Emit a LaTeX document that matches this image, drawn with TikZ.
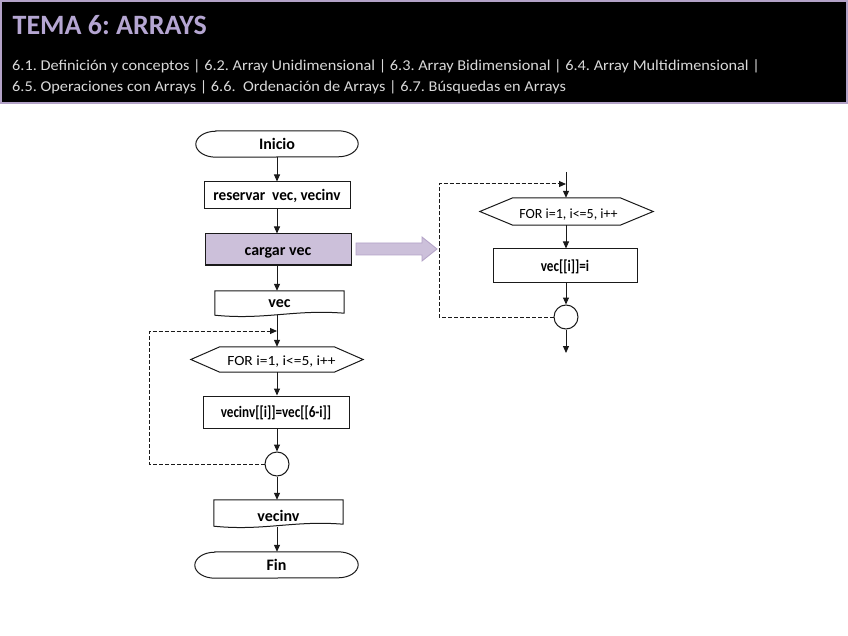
\documentclass[tikz,border=0pt]{standalone}
\usepackage{fontspec}
\setmainfont{Carlito}
\newfontfamily\widefont[FakeStretch=1.085]{Carlito}
\newfontfamily\forwide[FakeStretch=1.1]{Carlito}
\usetikzlibrary{arrows.meta,calc}
\definecolor{lav}{HTML}{B5A6D2}
\definecolor{lavfill}{HTML}{CCC0DA}
\definecolor{lavline}{HTML}{B3A2C7}
\definecolor{subgray}{HTML}{D9D9D9}
\definecolor{ln}{HTML}{1A1A1A}
\tikzset{
  txt/.style={font=\bfseries\fontsize{16}{18}\selectfont, inner sep=0pt, text=black, text height=13pt, text depth=2pt},
  procbox/.style={txt, draw=ln, line width=1pt},
  ghost/.style={txt, draw=none},
  shapeline/.style={draw=ln, line width=1pt},
  forlabel/.style={font=\fontsize{14}{16}\selectfont, inner sep=0pt, anchor=base},
  arr/.style={draw=ln, line width=1pt, -{Triangle[length=7pt,width=6pt]}},
  dashline/.style={draw=ln, line width=1pt, dash pattern=on 4pt off 2pt},
  joint/.style={circle, draw=ln, line width=1pt, minimum size=24pt, inner sep=0pt},
  headtext/.style={anchor=base west, inner sep=0pt, text=subgray, font=\widefont\fontsize{15}{18}\selectfont},
}
\begin{document}
\frenchspacing
\begin{tikzpicture}[x=1pt,y=-1pt]
\useasboundingbox (0,0) rectangle (848,636);
\fill[white] (0,0) rectangle (848,636);
% header
\draw[fill=black, draw=lavline, line width=2pt] (1,1) rectangle (847,103);
\node[anchor=base west, inner sep=0pt, text=lav, font=\bfseries\fontsize{28}{32}\selectfont] (title) at (12.5,35) {TEMA 6: ARRAYS};
\node[headtext] (l1) at (12,71) {6.1. Definición y conceptos | 6.2. Array Unidimensional | 6.3. Array Bidimensional | 6.4. Array Multidimensional |};
\node[headtext] (l2) at (12,92) {6.5. Operaciones con Arrays | 6.6.\ \ Ordenación de Arrays | 6.7. Búsquedas en Arrays};

% left flowchart
\node[ghost, minimum width=162pt, minimum height=26pt] (ini) at (277,144) {Inicio};
\draw[shapeline] ([xshift=20pt]ini.north west) -- ([xshift=-20pt]ini.north east)
  arc[start angle=90, end angle=-90, x radius=20pt, y radius=13pt]
  -- ([xshift=20pt]ini.south west)
  arc[start angle=270, end angle=90, x radius=20pt, y radius=13pt] -- cycle;

\node[procbox, minimum width=146pt, minimum height=27pt] (res) at (277,195.5) {\scalebox{0.95}[1]{reservar\ \ vec, vecinv}};
\node[procbox, fill=lavfill, minimum width=146pt, minimum height=31pt] (car) at (278,249.5) {cargar vec};

\node[ghost, minimum width=129pt, minimum height=24pt] (vec) at (279.5,303) {\raisebox{1pt}{vec}};
\draw[shapeline] (vec.south west) -- (vec.north west) -- (vec.north east) -- ([yshift=2pt]vec.south east)
  .. controls ([xshift=-50pt,yshift=6pt]vec.south east) and ([xshift=50pt,yshift=-5pt]vec.south west) .. (vec.south west) -- cycle;

\coordinate (j1) at (277,331);
\node[ghost, minimum width=172pt, minimum height=25pt] (f1) at (277,359.5) {};
\draw[shapeline] (f1.west) -- ([xshift=29pt]f1.north west) -- ([xshift=-29pt]f1.north east) -- (f1.east)
  -- ([xshift=-29pt]f1.south east) -- ([xshift=29pt]f1.south west) -- cycle;
\node[forlabel, font=\forwide\fontsize{14}{16}\selectfont] (f1t) at (281.5,365) {FOR i=1, i<=5, i++};

\node[procbox, minimum width=146pt, minimum height=32pt] (vi) at (276,412) {\scalebox{0.82}[1]{vecinv[[i]]=vec[[6-i]]}};
\node[joint] (c1) at (277,464) {};

\node[ghost, minimum width=129pt, minimum height=26pt] (vd) at (278.5,513) {\raisebox{-2.5pt}{vecinv}};
\draw[shapeline] (vd.south west) -- (vd.north west) -- (vd.north east) -- ([yshift=2pt]vd.south east)
  .. controls ([xshift=-50pt,yshift=6pt]vd.south east) and ([xshift=50pt,yshift=-5pt]vd.south west) .. (vd.south west) -- cycle;

\node[ghost, minimum width=163pt, minimum height=26pt] (fin) at (276.5,565) {Fin};
\draw[shapeline] ([xshift=20pt]fin.north west) -- ([xshift=-20pt]fin.north east)
  arc[start angle=90, end angle=-90, x radius=20pt, y radius=13pt]
  -- ([xshift=20pt]fin.south west)
  arc[start angle=270, end angle=90, x radius=20pt, y radius=13pt] -- cycle;

\draw[arr] (ini.south -| res.north) -- (res.north);
\draw[arr] (res.south) -- (res.south |- car.north);
\draw[arr] (car.south -| res.south) -- (res.south |- vec.north);
\draw[arr] (vec.south -| j1) -- (j1 |- f1.north);
\draw[arr] (f1.south -| j1) -- (j1 |- vi.north);
\draw[arr] (vi.south -| c1) -- (c1.north);
\draw[arr] (c1.south) -- (c1 |- vd.north);
\draw[arr] ([yshift=-1pt]vd.south -| c1) -- (c1 |- fin.north);
\draw[dashline, -{Triangle[length=7pt,width=6pt]}] (c1.west) -- (149,464) -- (149,331) -- (j1);

% block arrow
\draw[fill=lavfill, draw=lavline, line width=0.8pt] (356,243) -- (422,243) -- (422,237) -- (437,249) -- (422,261) -- (422,255) -- (356,255) -- cycle;

% right flowchart
\coordinate (top2) at (566,172);
\coordinate (j2) at (566,184);
\node[ghost, minimum width=173pt, minimum height=27pt] (f2) at (566.5,211.5) {};
\draw[shapeline] (f2.west) -- ([xshift=33pt]f2.north west) -- ([xshift=-33pt]f2.north east) -- (f2.east)
  -- ([xshift=-33pt]f2.south east) -- ([xshift=33pt]f2.south west) -- cycle;
\node[forlabel] (f2t) at (568.5,219) {FOR i=1, i<=5, i++};
\node[procbox, minimum width=144pt, minimum height=33pt] (vb) at (565,265.5) {\scalebox{0.82}[1]{vec[[i]]=i}};
\node[joint] (c2) at (566,317) {};
\coordinate (end2) at (566,353);

\draw[arr] (top2) -- (top2 |- f2.north);
\draw[arr] (f2.south -| top2) -- (top2 |- vb.north);
\draw[arr] (vb.south -| c2) -- (c2.north);
\draw[arr] (c2.south) -- (end2);
\draw[dashline, -{Triangle[length=7pt,width=6pt]}] (c2.west) -- (439,317) -- (439,184) -- (j2);
\end{tikzpicture}
\end{document}
